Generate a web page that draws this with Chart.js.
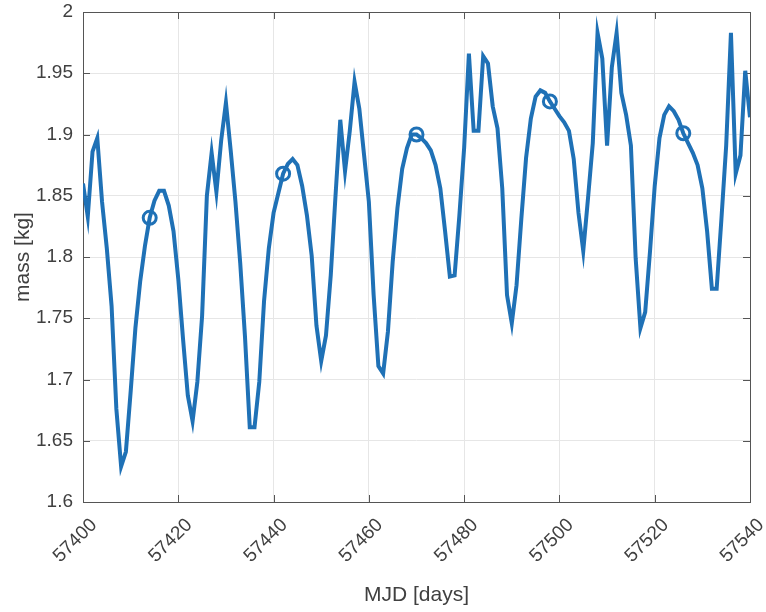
<!DOCTYPE html>
<html>
<head>
<meta charset="utf-8">
<script src="https://cdn.jsdelivr.net/npm/chart.js@4.4.1/dist/chart.umd.min.js"></script>
<style>
  html, body { margin: 0; padding: 0; background: #fff; }
  #wrap { width: 766px; height: 612px; }
</style>
</head>
<body>
<div id="wrap"><canvas id="massChart" width="766" height="612"></canvas></div>
<script>
// daily mass samples, starting at MJD 57400
const startDay = 57400;
const massKg = [
  1.860, 1.833, 1.886, 1.897, 1.845, 1.807, 1.760, 1.676, 1.629, 1.641,
  1.690, 1.742, 1.780, 1.809, 1.832, 1.846, 1.854, 1.854, 1.842, 1.821,
  1.782, 1.733, 1.687, 1.666, 1.698, 1.752, 1.850, 1.885, 1.853, 1.895,
  1.926, 1.887, 1.845, 1.795, 1.735, 1.661, 1.661, 1.698, 1.764, 1.807,
  1.836, 1.852, 1.868, 1.876, 1.880, 1.875, 1.858, 1.834, 1.801, 1.744,
  1.715, 1.736, 1.785, 1.850, 1.912, 1.870, 1.903, 1.943, 1.921, 1.883,
  1.845, 1.769, 1.711, 1.705, 1.739, 1.796, 1.840, 1.872, 1.889, 1.900,
  1.900, 1.897, 1.893, 1.887, 1.875, 1.856, 1.821, 1.784, 1.785, 1.834,
  1.889, 1.966, 1.903, 1.903, 1.964, 1.958, 1.923, 1.905, 1.856, 1.769,
  1.746, 1.777, 1.831, 1.881, 1.913, 1.931, 1.936, 1.934, 1.927, 1.921,
  1.915, 1.910, 1.903, 1.880, 1.836, 1.805, 1.848, 1.893, 1.983, 1.962,
  1.891, 1.955, 1.983, 1.934, 1.916, 1.891, 1.799, 1.742, 1.755, 1.804,
  1.858, 1.897, 1.916, 1.923, 1.919, 1.912, 1.901, 1.893, 1.885, 1.875,
  1.856, 1.821, 1.774, 1.774, 1.831, 1.891, 1.983, 1.868, 1.883, 1.952,
  1.914
];
// days that carry a circle marker
const markerDays = [57414, 57442, 57470, 57498, 57526];

const xTicks = [57400, 57420, 57440, 57460, 57480, 57500, 57520, 57540];
const yTicks = [1.6, 1.65, 1.7, 1.75, 1.8, 1.85, 1.9, 1.95, 2];

const lineColor = '#1f71b6';
const axisColor = '#555555';
const textColor = '#404040';
const fontFamily = '"Liberation Sans", Arial, Helvetica, sans-serif';

const points = massKg.map((m, i) => ({ x: startDay + i, y: m }));

// box around the axes plus inward tick marks (matlab look)
const boxPlugin = {
  id: 'boxTicks',
  beforeDatasetsDraw(chart) {
    const { ctx, chartArea: a, scales } = chart;
    const len = 7;
    ctx.save();
    ctx.strokeStyle = axisColor;
    ctx.lineWidth = 1;
    ctx.beginPath();
    xTicks.forEach(v => {
      const px = Math.round(scales.x.getPixelForValue(v)) + 0.5;
      ctx.moveTo(px, a.bottom); ctx.lineTo(px, a.bottom - len);
      ctx.moveTo(px, a.top); ctx.lineTo(px, a.top + len);
    });
    yTicks.forEach(v => {
      const py = Math.round(scales.y.getPixelForValue(v)) + 0.5;
      ctx.moveTo(a.left, py); ctx.lineTo(a.left + len, py);
      ctx.moveTo(a.right, py); ctx.lineTo(a.right - len, py);
    });
    ctx.stroke();
    ctx.strokeRect(Math.round(a.left) + 0.5, Math.round(a.top) + 0.5,
      Math.round(a.right - a.left), Math.round(a.bottom - a.top));
    ctx.restore();
  }
};

const ctx = document.getElementById('massChart').getContext('2d');
new Chart(ctx, {
  type: 'line',
  data: {
    datasets: [{
      data: points,
      borderColor: lineColor,
      borderWidth: 4,
      tension: 0,
      fill: false,
      pointStyle: 'circle',
      pointRadius: c => markerDays.includes(c.raw && c.raw.x) ? 6.5 : 0,
      pointBorderWidth: 3,
      pointBorderColor: lineColor,
      pointBackgroundColor: 'rgba(0,0,0,0)',
      pointHoverRadius: 0
    }]
  },
  options: {
    responsive: false,
    animation: false,
    events: [],
    layout: { padding: { left: 0, right: 16, top: 12, bottom: 0 } },
    plugins: {
      legend: { display: false },
      tooltip: { enabled: false }
    },
    scales: {
      x: {
        type: 'linear',
        min: 57400,
        max: 57540,
        afterFit: s => {
          s.height = 110;
          s.paddingLeft = 0;
          s.paddingRight = 0;
        },
        afterBuildTicks: s => { s.ticks = xTicks.map(v => ({ value: v })); },
        grid: { color: '#e6e6e6', drawTicks: false },
        border: { display: false },
        ticks: {
          minRotation: 45,
          maxRotation: 45,
          padding: 12,
          labelOffset: 11,
          color: textColor,
          font: { family: fontFamily, size: 19 },
          callback: v => String(v)
        },
        title: {
          display: true,
          text: 'MJD [days]',
          color: textColor,
          font: { family: fontFamily, size: 21 },
          padding: { top: 0, bottom: 4 }
        }
      },
      y: {
        min: 1.6,
        max: 2,
        afterFit: s => {
          s.width = 83;
          s.paddingTop = 0;
          s.paddingBottom = 0;
        },
        afterBuildTicks: s => { s.ticks = yTicks.map(v => ({ value: v })); },
        grid: { color: '#e6e6e6', drawTicks: false },
        border: { display: false },
        ticks: {
          padding: 10,
          color: textColor,
          font: { family: fontFamily, size: 19 },
          callback: v => String(parseFloat(Number(v).toFixed(2)))
        },
        title: {
          display: true,
          text: 'mass [kg]',
          color: textColor,
          font: { family: fontFamily, size: 21 },
          padding: { top: 11, bottom: 0 }
        }
      }
    }
  },
  plugins: [boxPlugin]
});
</script>
</body>
</html>
